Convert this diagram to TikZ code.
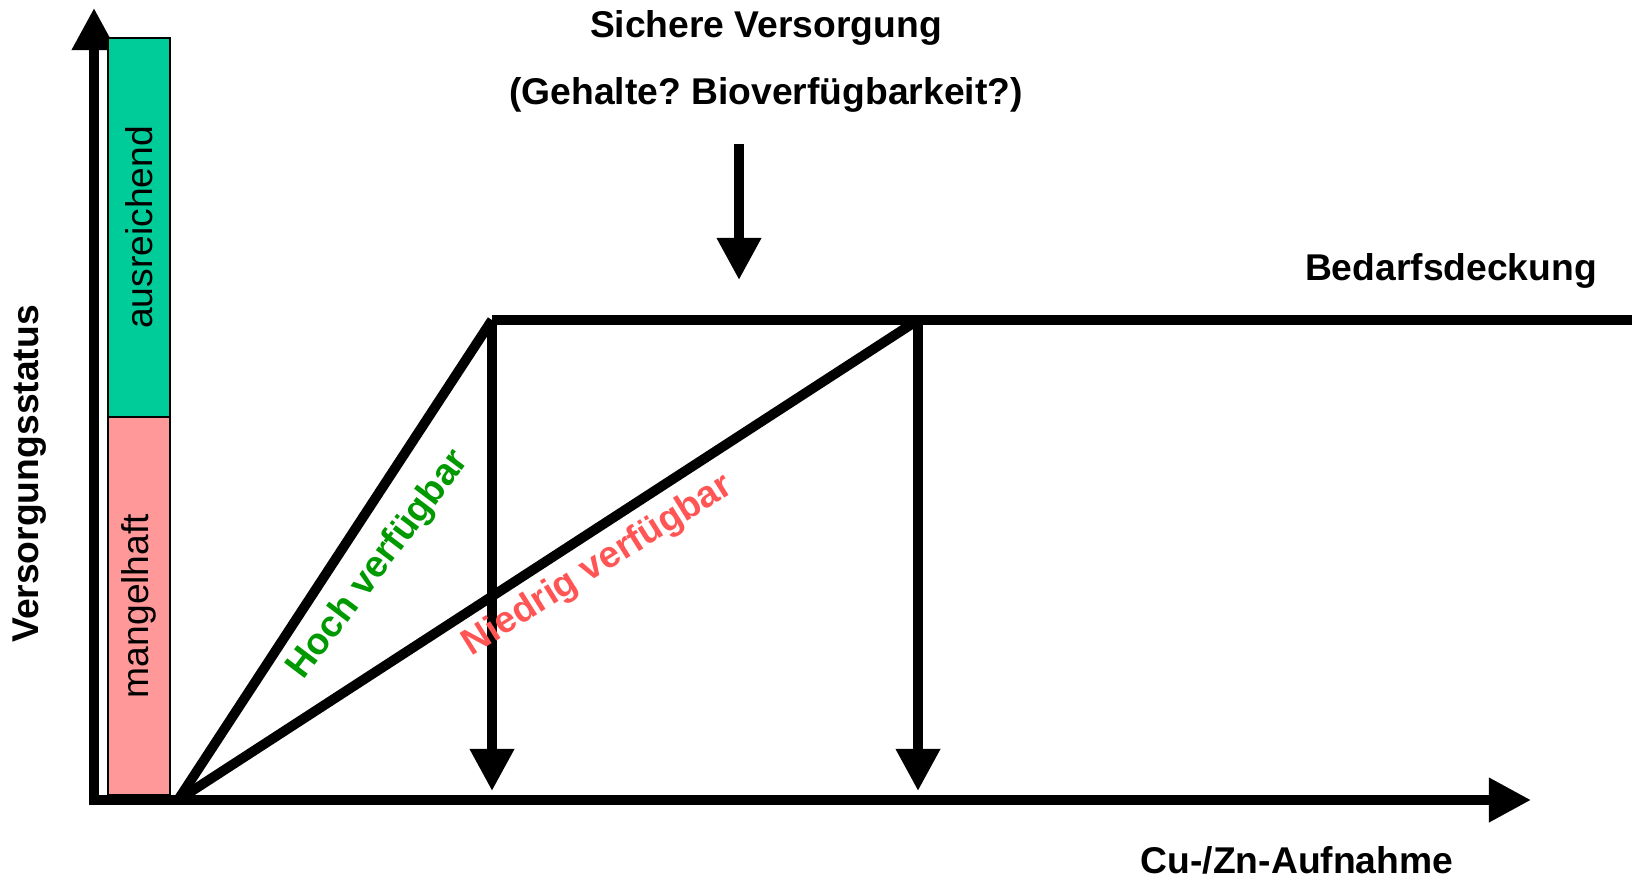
\documentclass[tikz,border=0pt]{standalone}
\usepackage{fontspec}
\setmainfont{Liberation Sans}
\usetikzlibrary{arrows.meta}
\definecolor{balkengruen}{RGB}{0,204,153}
\definecolor{balkenrosa}{RGB}{255,153,153}
\definecolor{hochgruen}{RGB}{0,153,0}
\definecolor{niedrigrot}{RGB}{255,85,85}
\frenchspacing

\begin{document}
\begin{tikzpicture}[>={Triangle[length=12pt,width=12pt]},line width=2.8pt,
    font=\fontsize{10.6}{12}\selectfont\bfseries,
    balken/.style={draw,line width=0.5pt,rotate=90,minimum width=3.78cm,
      minimum height=0.62cm,inner sep=0pt,font=\fontsize{10.6}{12}\selectfont\mdseries}]
  \useasboundingbox (0,0) rectangle (16.32,8.77);

  % Achsen
  \coordinate (yfuss) at (0.94,0.72);
  \coordinate (yspitze) at (0.94,8.69);
  \coordinate (xfuss) at (0.89,0.77);
  \coordinate (xspitze) at (15.31,0.77);
  \draw[->] (yfuss) -- (yspitze);
  \draw[->] (xfuss) -- (xspitze);

  % Balken links
  \node[balken,fill=balkenrosa] (mangel) at (1.39,2.71) {mangelhaft};
  \node[balken,fill=balkengruen,minimum width=3.79cm] (ausreichend) at (1.39,6.495) {ausreichend};

  % Geraden und Bedarfsdeckung
  \coordinate (O) at (1.78,0.77);
  \coordinate (H) at (4.92,5.57);
  \coordinate (N) at (9.18,5.57);
  \coordinate (rechts) at (16.32,5.57);
  \coordinate (Hfuss) at (4.92,0.86);
  \coordinate (Nfuss) at (9.18,0.86);
  \draw (O) -- (H);
  \draw (O) -- (N);
  \draw (H) -- (rechts);
  \draw[->] (H) -- (Hfuss);
  \draw[->] (N) -- (Nfuss);

  % Pfeil von oben
  \coordinate (pfeiloben) at (7.39,7.33);
  \coordinate (pfeilunten) at (7.39,5.97);
  \draw[->] (pfeiloben) -- (pfeilunten);

  \node (sicher) at (7.66,8.49) {Sichere Versorgung};
  \node (gehalt) at (7.66,7.82) {(Gehalte? Bioverfügbarkeit?)};
  \node (bedarf) at (14.51,6.06) {Bedarfsdeckung};
  \node (aufnahme) at (12.97,0.17) {Cu-/Zn-Aufnahme};
  \node[rotate=90] (status) at (0.30,4.03) {Versorgungsstatus};
  \node[rotate=53,text=hochgruen] (hoch) at (3.79,3.12) {Hoch verfügbar};
  \node[rotate=32,text=niedrigrot] (niedrig) at (5.98,3.11) {Niedrig verfügbar};
\end{tikzpicture}
\end{document}
